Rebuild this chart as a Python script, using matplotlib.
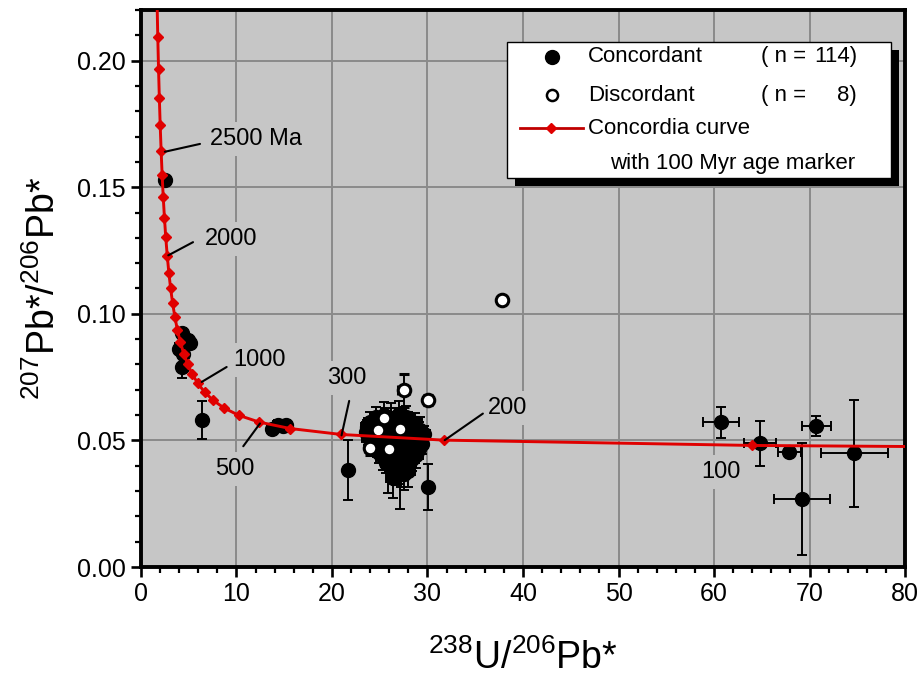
import matplotlib
matplotlib.use("Agg")
import matplotlib.pyplot as plt
from matplotlib.patches import Rectangle
from matplotlib.ticker import MultipleLocator, FormatStrFormatter

plt.rcParams['font.family'] = ['Liberation Sans', 'DejaVu Sans']
plt.rcParams['mathtext.fontset'] = 'custom'
plt.rcParams['mathtext.rm'] = 'Liberation Sans'
plt.rcParams['mathtext.default'] = 'regular'

# Concordia curve, 100 Myr age markers (100 ... 3000 Ma)
marker_x = [63.97, 31.73, 20.99, 15.62, 12.40, 10.25, 8.718, 7.568, 6.674, 5.959,
            5.374, 4.887, 4.476, 4.123, 3.817, 3.550, 3.314, 3.104, 2.917, 2.749,
            2.596, 2.459, 2.332, 2.217, 2.111, 2.013, 1.923, 1.838, 1.760, 1.687]
marker_y = [0.04802, 0.05011, 0.05234, 0.05470, 0.05722, 0.05990, 0.06276, 0.06580, 0.06904, 0.07249,
            0.07618, 0.08011, 0.08432, 0.08879, 0.09360, 0.09873, 0.10418, 0.11002, 0.11628, 0.12298,
            0.13015, 0.13783, 0.14603, 0.15483, 0.16427, 0.17440, 0.18522, 0.19681, 0.20926, 0.22263]
curve_x = [80.1] + marker_x
curve_y = [0.0476] + marker_y

# concordant grains outside the main cluster
conc_x = [2.5, 4.3, 4.95, 5.1, 4.0, 4.45, 4.25, 6.35, 13.7, 14.3, 14.9, 15.2,
          60.7, 64.8, 67.9, 70.7, 69.2, 74.7, 21.7, 30.1]
conc_y = [0.153, 0.0925, 0.0895, 0.0884, 0.0863, 0.0843, 0.0790, 0.058, 0.0545, 0.0560, 0.0555, 0.0562,
          0.0571, 0.0488, 0.0455, 0.0556, 0.0268, 0.0449, 0.0383, 0.0317]
conc_xerr = [0.1, 0.2, 0.2, 0.2, 0.2, 0.2, 0.2, 0.3, 0.5, 0.5, 0.5, 0.5,
             1.9, 1.7, 1.2, 1.5, 2.9, 3.5, 0.4, 0.5]
conc_yerr = [0.0015, 0.002, 0.002, 0.002, 0.002, 0.002, 0.0044, 0.0075, 0.002, 0.002, 0.002, 0.002,
             0.006, 0.009, 0.002, 0.004, 0.022, 0.021, 0.012, 0.009]

# concordant grains in the ~200-300 Ma cluster
cluster_x = [24.6, 25.4, 26.2, 27.0, 27.8,
             24.0, 24.8, 25.6, 26.4, 27.2, 28.0, 28.7,
             23.7, 24.5, 25.3, 26.1, 26.9, 27.7, 28.5, 29.2,
             23.6, 24.4, 25.2, 26.0, 26.8, 27.6, 28.4, 29.1, 29.6,
             23.8, 24.6, 25.4, 26.2, 27.0, 27.8, 28.6, 29.3,
             24.1, 24.9, 25.7, 26.5, 27.3, 28.1, 28.9, 29.4,
             24.5, 25.3, 26.1, 26.9, 27.7, 28.5, 29.1,
             24.9, 25.7, 26.5, 27.3, 28.1, 28.8,
             25.3, 26.1, 26.9, 27.7, 28.4,
             25.7, 26.5, 27.3, 28.1,
             26.2, 27.0, 27.8,
             26.7, 27.5,
             25.0, 26.6, 27.4, 28.3, 24.3, 25.9, 27.3, 28.9, 26.2, 27.9, 25.5,
             26.8, 27.6, 28.5, 24.7, 25.9, 27.1, 26.4, 27.2, 28.0, 25.1, 26.9]
cluster_y = [0.0592, 0.0601, 0.0588, 0.0605, 0.0594,
             0.0571, 0.0565, 0.0578, 0.0569, 0.0574, 0.0563, 0.0570,
             0.0552, 0.0546, 0.0557, 0.0549, 0.0554, 0.0545, 0.0551, 0.0543,
             0.0533, 0.0527, 0.0524, 0.0536, 0.0529, 0.0531, 0.0522, 0.0534, 0.0526,
             0.0512, 0.0506, 0.0515, 0.0508, 0.0503, 0.0511, 0.0505, 0.0498,
             0.0492, 0.0486, 0.0495, 0.0489, 0.0484, 0.0491, 0.0481, 0.0487,
             0.0472, 0.0466, 0.0475, 0.0468, 0.0463, 0.0470, 0.0465,
             0.0452, 0.0447, 0.0455, 0.0444, 0.0449, 0.0441,
             0.0433, 0.0426, 0.0431, 0.0424, 0.0428,
             0.0412, 0.0407, 0.0415, 0.0405,
             0.0392, 0.0386, 0.0395,
             0.0372, 0.0366,
             0.0536, 0.0578, 0.0515, 0.0488, 0.0542, 0.0459, 0.0438, 0.0517, 0.0401, 0.0457, 0.0500,
             0.0476, 0.0558, 0.0538, 0.0494, 0.0417, 0.0396, 0.0351, 0.0367, 0.0378, 0.0462, 0.0435]
cluster_xerr = [0.6, 0.7, 0.6, 0.8, 0.7,
                0.6, 0.7, 0.6, 0.7, 0.8, 0.6, 0.7,
                0.7, 0.6, 0.7, 0.6, 0.8, 0.7, 0.6, 0.8,
                0.6, 0.7, 0.6, 0.7, 0.6, 0.7, 0.8, 0.6, 0.7,
                0.7, 0.6, 0.7, 0.6, 0.7, 0.8, 0.6, 0.7,
                0.6, 0.7, 0.6, 0.8, 0.7, 0.6, 0.7, 0.6,
                0.7, 0.6, 0.7, 0.6, 0.8, 0.7, 0.6,
                0.6, 0.7, 0.6, 0.7, 0.6, 0.7,
                0.7, 0.6, 0.8, 0.6, 0.7,
                0.6, 0.7, 0.6, 0.7,
                0.7, 0.6, 0.7,
                0.6, 0.7,
                0.8, 0.6, 0.7, 0.6, 0.7, 0.6, 0.8, 0.7, 0.6, 0.7, 0.6,
                0.7, 0.6, 0.7, 0.6, 0.7, 0.6, 0.7, 0.6, 0.7, 0.6, 0.7]
cluster_yerr = [0.004, 0.005, 0.006, 0.005, 0.004,
                0.004, 0.003, 0.005, 0.004, 0.003, 0.005, 0.004,
                0.003, 0.004, 0.003, 0.005, 0.004, 0.003, 0.004, 0.005,
                0.004, 0.003, 0.004, 0.003, 0.005, 0.004, 0.003, 0.004, 0.003,
                0.003, 0.004, 0.005, 0.003, 0.004, 0.003, 0.005, 0.004,
                0.004, 0.003, 0.004, 0.005, 0.003, 0.004, 0.003, 0.004,
                0.003, 0.004, 0.003, 0.004, 0.005, 0.003, 0.004,
                0.004, 0.005, 0.003, 0.004, 0.003, 0.005,
                0.005, 0.004, 0.006, 0.004, 0.005,
                0.004, 0.006, 0.005, 0.004,
                0.005, 0.006, 0.004,
                0.005, 0.006,
                0.004, 0.005, 0.004, 0.003, 0.004, 0.003, 0.005, 0.004, 0.004, 0.003, 0.004,
                0.003, 0.004, 0.003, 0.004, 0.0125, 0.0166, 0.008, 0.005, 0.006, 0.004, 0.003]

# discordant grains
disc_x = [27.5, 30.1, 25.4, 24.85, 27.1, 24.0, 26.0, 37.8]
disc_y = [0.0698, 0.0659, 0.0587, 0.0543, 0.0547, 0.0472, 0.0468, 0.1053]
disc_xerr = [0.6, 0.3, 0.5, 0.5, 0.5, 0.5, 0.5, 0.3]
disc_yerr = [0.0065, 0.002, 0.003, 0.003, 0.003, 0.003, 0.003, 0.0015]

# age labels on the curve
label_text = ['2500 Ma', '2000', '1000', '500', '300', '200', '100']
label_x = [7.23, 6.70, 9.66, 7.75, 19.45, 36.37, 58.7]
label_y = [0.1691, 0.1296, 0.0817, 0.0387, 0.0746, 0.0629, 0.0376]
leader_from = [(2.5, 0.164), (2.86, 0.1231), (6.36, 0.0731), (12.46, 0.0567), (21.0, 0.052), (31.8, 0.0501)]
leader_to = [(6.18, 0.1671), (5.45, 0.1283), (8.97, 0.079), (10.71, 0.0477), (21.8, 0.0656), (35.8, 0.0606)]

bg = '#c6c6c6'
red = '#e00000'

fig = plt.figure(figsize=(9.19, 6.83), dpi=100)
ax = fig.add_axes([0.1534, 0.1698, 0.8314, 0.8156])
ax.set_facecolor(bg)

ebkw = dict(fmt='o', ecolor='black', elinewidth=1.4, capsize=3.5, capthick=1.4)
ax.errorbar(cluster_x, cluster_y, xerr=cluster_xerr, yerr=cluster_yerr,
            mfc='black', mec='black', ms=10, zorder=3, **ebkw)
ax.errorbar(conc_x, conc_y, xerr=conc_xerr, yerr=conc_yerr,
            mfc='black', mec='black', ms=10, zorder=3, **ebkw)
ax.errorbar(disc_x, disc_y, xerr=disc_xerr, yerr=disc_yerr,
            mfc='white', mec='black', mew=2.2, ms=9, zorder=4, **ebkw)

ax.plot(curve_x, curve_y, color=red, lw=2.1, zorder=5)
ax.plot(marker_x, marker_y, linestyle='none', marker='D', ms=5, color=red, zorder=6)

for (x0, y0), (x1, y1) in zip(leader_from, leader_to):
    ax.annotate('', xy=(x0, y0), xytext=(x1, y1),
                arrowprops=dict(arrowstyle='-', color='black', lw=1.5, shrinkA=0, shrinkB=0),
                zorder=7)
for t, x, y in zip(label_text, label_x, label_y):
    ax.text(x, y, t, fontsize=17, ha='left', va='center', zorder=2,
            bbox=dict(boxstyle='square,pad=0.25', fc=bg, ec='none'))

ax.set_xlim(0, 80)
ax.set_ylim(0, 0.22)
ax.xaxis.set_major_locator(MultipleLocator(10))
ax.xaxis.set_minor_locator(MultipleLocator(2))
ax.yaxis.set_major_locator(MultipleLocator(0.05))
ax.yaxis.set_minor_locator(MultipleLocator(0.01))
ax.yaxis.set_major_formatter(FormatStrFormatter('%.2f'))
ax.tick_params(which='major', direction='out', length=7, width=1.9, labelsize=18, pad=4)
ax.tick_params(which='minor', direction='out', length=4, width=1.6)
ax.grid(True, which='major', color='#8a8a8a', lw=1.4)
ax.set_axisbelow(True)
for s in ax.spines.values():
    s.set_linewidth(2.8)

ax.set_xlabel(r'$^{238}$U/$^{206}$Pb*', fontsize=27, labelpad=24)
ax.set_ylabel(r'$^{207}$Pb*/$^{206}$Pb*', fontsize=27, labelpad=10)

# legend box with hard shadow
lx, ly, lw_, lh = 0.479, 0.698, 0.502, 0.245
ax.add_patch(Rectangle((lx + 0.0105, ly - 0.0144), lw_, lh, transform=ax.transAxes,
                       fc='black', ec='none', zorder=9, clip_on=False))
ax.add_patch(Rectangle((lx, ly), lw_, lh, transform=ax.transAxes,
                       fc='white', ec='black', lw=1.0, zorder=10, clip_on=False))
ax.plot([0.5376], [0.9156], 'o', color='black', ms=10, transform=ax.transAxes, zorder=11)
ax.plot([0.5376], [0.847], 'o', mfc='white', mec='black', mew=1.8, ms=8, transform=ax.transAxes, zorder=11)
ax.plot([0.496, 0.5785], [0.788, 0.788], color='#c00000', lw=2, transform=ax.transAxes, zorder=11)
ax.plot([0.537], [0.788], 'D', color=red, ms=5, transform=ax.transAxes, zorder=12)
leg_kw = dict(transform=ax.transAxes, fontsize=16, va='center', zorder=12)
ax.text(0.585, 0.9156, 'Concordant', ha='left', **leg_kw)
ax.text(0.585, 0.847, 'Discordant', ha='left', **leg_kw)
ax.text(0.585, 0.788, 'Concordia curve', ha='left', **leg_kw)
ax.text(0.614, 0.725, 'with 100 Myr age marker', ha='left', **leg_kw)
ax.text(0.812, 0.9156, '( n =', ha='left', **leg_kw)
ax.text(0.812, 0.847, '( n =', ha='left', **leg_kw)
ax.text(0.937, 0.9156, '114)', ha='right', **leg_kw)
ax.text(0.937, 0.847, '8)', ha='right', **leg_kw)

fig.savefig('out.png', dpi=100, facecolor='white')
